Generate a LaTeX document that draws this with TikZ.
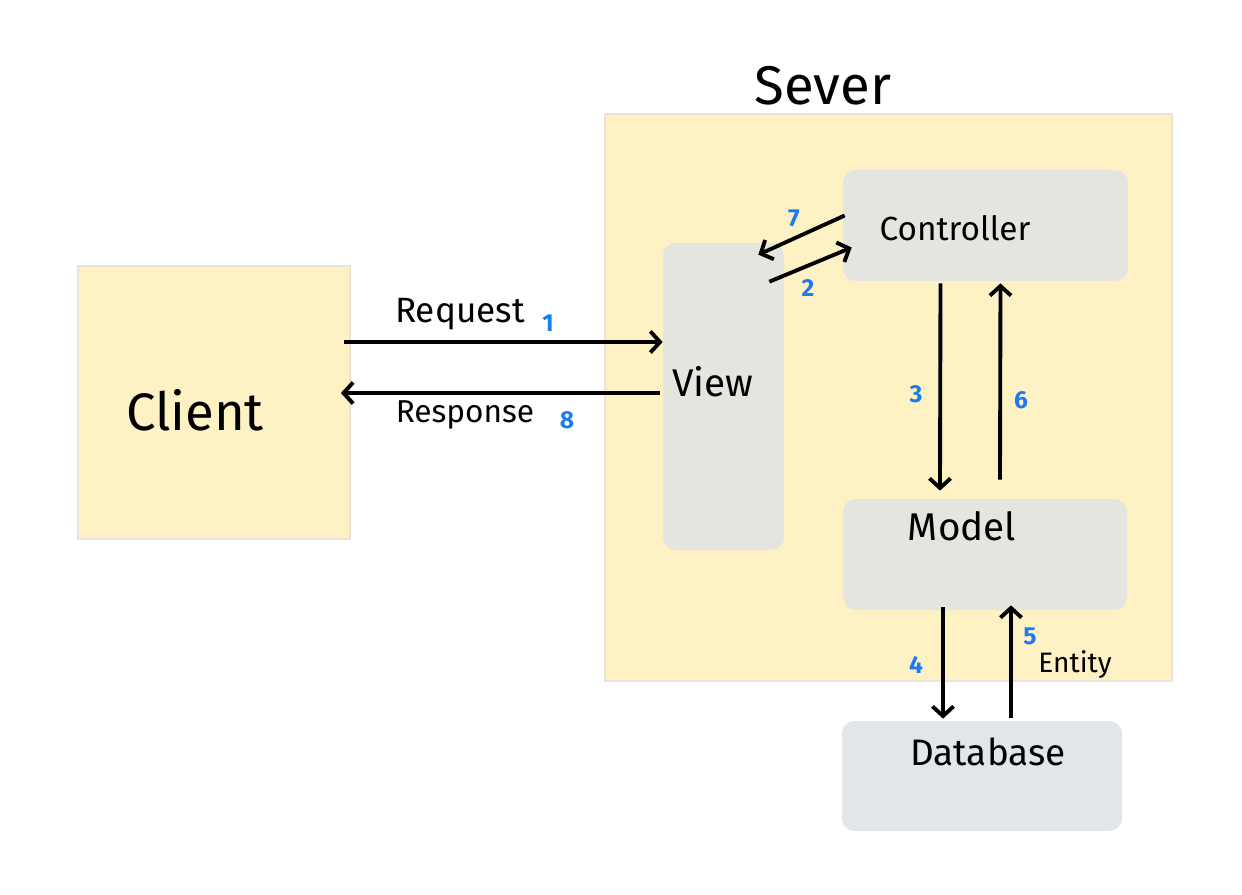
\documentclass[tikz,border=0pt]{standalone}
\usepackage{fontspec}
\setmainfont{Fira Sans}
\usetikzlibrary{arrows.meta}
\usetikzlibrary{calc}

\definecolor{paper}{HTML}{FEF2C4}
\definecolor{paperline}{HTML}{ECE3D8}
\definecolor{block}{HTML}{E5E5E0}
\definecolor{dbblock}{HTML}{E3E6E9}
\definecolor{stepblue}{HTML}{1A7CF5}

\tikzset{
  zone/.style={draw=paperline, line width=1pt, fill=paper, inner sep=0pt},
  part/.style={fill=block, rounded corners=0.25cm, inner sep=0pt},
  word/.style={font=\fontsize{#1}{#1}\selectfont, inner sep=0pt},
  num/.style={text=stepblue, font=\bfseries\fontsize{14}{14}\selectfont, inner sep=0pt},
  flow/.style={line width=2.2pt, -{Straight Barb[length=5.5pt,width=12pt,line width=2.2pt]}}
}

\begin{document}
\begin{tikzpicture}[x=0.02cm,y=-0.02cm]
  \useasboundingbox (0,0) rectangle (1242,894);
  % boxes
  \node[zone, minimum width=5.44cm, minimum height=5.46cm] (client) at (214,402.5) {};
  \node[zone, line width=1.4pt, minimum width=11.34cm, minimum height=11.34cm] (sever) at (888.5,397.5) {};
  \node[part, minimum width=2.42cm, minimum height=6.14cm] (view) at (723.5,396.5) {};
  \node[part, minimum width=5.7cm, minimum height=2.22cm] (ctrl) at (985.5,225.5) {};
  \node[part, minimum width=5.68cm, minimum height=2.22cm] (model) at (985,554.5) {};
  \node[part, fill=dbblock, minimum width=5.6cm, minimum height=2.2cm] (db) at (982,776) {};

  % texts
  \node[word=31] (severtxt) at (823,86) {Sever};
  \node[word=30] (clienttxt) at (195,410) {Client};
  \node[word=22] (viewtxt) at (713,382) {View};
  \node[word=19] (ctrltxt) at (955,228) {Controller};
  \node[word=22] (modeltxt) at (962,526) {Model};
  \node[word=21] (dbtxt) at (988,752) {Database};
  \node[word=20] (reqtxt) at (460,314) {Request};
  \node[word=18] (restxt) at (465,415) {Response};
  \node[word=16] (enttxt) at (1075,665) {Entity};

  % request / response
  \draw[flow] ($(client.east |- 0,342)+(-7,0)$) -- (view.west |- 0,342);
  \draw[flow] ($(view.west |- 0,393)+(-3,0)$) -- ($(client.east |- 0,393)+(-10,0)$);

  % view <-> controller
  \draw[flow] ($(ctrl.west)+(2,-10)$) -- ($(view.north east)+(-26,12)$);
  \draw[flow] ($(view.north east)+(-15,39)$) -- ($(ctrl.west)+(9,22)$);

  % controller <-> model
  \draw[flow] ($(ctrl.south)+(-45,2)$) -- ($(model.north)+(-45,-8)$);
  \draw[flow] ($(model.north)+(15,-19)$) -- ($(ctrl.south)+(15,2)$);

  % model <-> database
  \draw[flow] ($(model.south)+(-42,-3)$) -- ($(db.north)+(-39,-2)$);
  \draw[flow] ($(db.north)+(29,-3)$) -- ($(model.south)+(26,-5)$);

  % step numbers
  \node[num] (n1) at (548,323) {1};
  \node[num] (n2) at (808,288) {2};
  \node[num] (n3) at (916,394) {3};
  \node[num] (n4) at (916,665) {4};
  \node[num] (n5) at (1030,636) {5};
  \node[num] (n6) at (1021,400) {6};
  \node[num] (n7) at (794,218) {7};
  \node[num] (n8) at (567,420) {8};
\end{tikzpicture}
\end{document}
